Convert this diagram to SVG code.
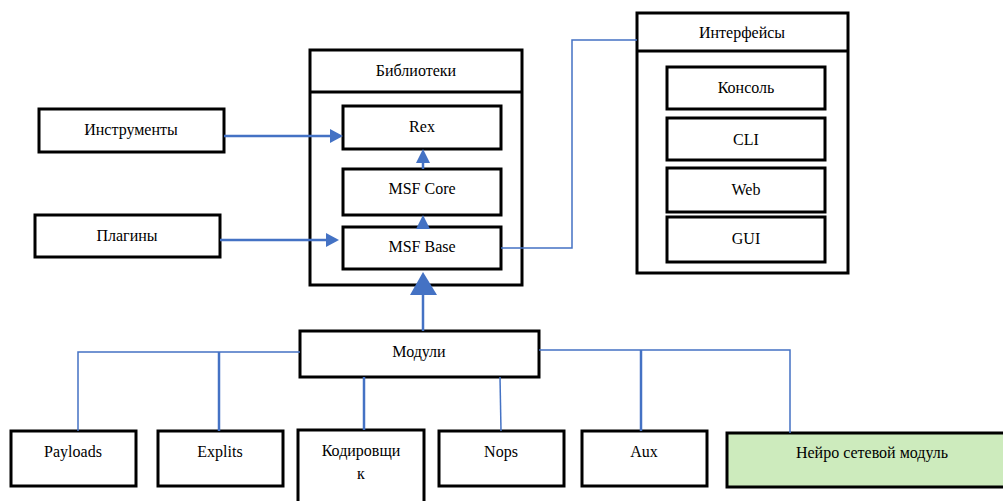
<svg xmlns="http://www.w3.org/2000/svg" width="1003" height="501" viewBox="0 0 1003 501">
<style>
.box{fill:#fff;stroke:#000;stroke-width:3}
.t{font-family:'Liberation Serif';font-size:16px;fill:#000;text-anchor:middle}
.ln{fill:none;stroke:#4472c4;stroke-width:1.5}
.lt{fill:none;stroke:#4472c4;stroke-width:2.5}
.ah{fill:#4472c4}
</style>
<rect width="1003" height="501" fill="#fff"/>
<g id="libraries">
<rect class="box" x="310" y="50" width="212" height="235"/>
<line x1="310" y1="92" x2="522" y2="92" stroke="#000" stroke-width="3"/>
<text class="t" x="416" y="76">Библиотеки</text>
</g>
<g id="rex"><rect class="box" x="343" y="106" width="158" height="43"/><text class="t" x="422" y="132">Rex</text></g>
<g id="msfcore"><rect class="box" x="343" y="169" width="158" height="46"/><text class="t" x="422" y="194">MSF Core</text></g>
<g id="msfbase"><rect class="box" x="343" y="227" width="158" height="42"/><text class="t" x="422" y="252">MSF Base</text></g>
<g id="interfaces">
<rect class="box" x="637" y="13" width="211" height="260"/>
<line x1="637" y1="51" x2="848" y2="51" stroke="#000" stroke-width="3"/>
<text class="t" x="742" y="38">Интерфейсы</text>
</g>
<g id="console"><rect class="box" x="667" y="67" width="158" height="42"/><text class="t" x="746" y="93">Консоль</text></g>
<g id="cli"><rect class="box" x="667" y="118" width="158" height="42"/><text class="t" x="746" y="145">CLI</text></g>
<g id="web"><rect class="box" x="667" y="168" width="158" height="44"/><text class="t" x="746" y="195">Web</text></g>
<g id="gui"><rect class="box" x="667" y="217" width="158" height="45"/><text class="t" x="746" y="244">GUI</text></g>
<g id="tools"><rect class="box" x="39" y="109" width="185" height="43"/><text class="t" x="131" y="135">Инструменты</text></g>
<g id="plugins"><rect class="box" x="35" y="215" width="185" height="42"/><text class="t" x="127" y="241">Плагины</text></g>
<g id="modules"><rect class="box" x="300" y="331" width="239" height="46"/><text class="t" x="419" y="357">Модули</text></g>
<g id="payloads"><rect class="box" x="11" y="431" width="125" height="55"/><text class="t" x="73" y="457">Payloads</text></g>
<g id="explits"><rect class="box" x="158" y="431" width="125" height="55"/><text class="t" x="220" y="457">Explits</text></g>
<g id="encoder"><rect class="box" x="298" y="430" width="126" height="80"/><text class="t" x="361" y="456">Кодировщи</text><text class="t" x="361" y="479">к</text></g>
<g id="nops"><rect class="box" x="439" y="431" width="125" height="55"/><text class="t" x="501" y="457">Nops</text></g>
<g id="aux"><rect class="box" x="582" y="431" width="125" height="55"/><text class="t" x="644" y="457">Aux</text></g>
<g id="neuro"><rect x="727" y="433" width="290" height="54" fill="#cdebbd" stroke="#000" stroke-width="3"/><text class="t" x="872" y="458">Нейро сетевой модуль</text></g>
<g id="connectors">
<line class="lt" x1="224" y1="136" x2="330" y2="136"/>
<polygon class="ah" points="343,136 330,129 330,143"/>
<line class="lt" x1="220" y1="240" x2="326" y2="240"/>
<polygon class="ah" points="339,240 326,233 326,247"/>
<line class="lt" x1="423" y1="169" x2="423" y2="160"/>
<polygon class="ah" points="423,149 416,163 430,163"/>
<line class="lt" x1="423" y1="227" x2="423" y2="224"/>
<polygon class="ah" points="423,215 416,229 430,229"/>
<line class="lt" x1="423" y1="331" x2="423" y2="292"/>
<polygon class="ah" points="423,272 410,295 437,295"/>
<polyline class="ln" points="501,248 572,248 572,40 637,40"/>
<polyline class="ln" points="300,352 78,352 78,431"/>
<line class="lt" x1="219" y1="352" x2="219" y2="431"/>
<line class="lt" x1="364" y1="377" x2="364" y2="430"/>
<line class="ln" x1="500" y1="377" x2="501" y2="431"/>
<polyline class="ln" points="539,350 790,350 790,433"/>
<line class="lt" x1="641" y1="350" x2="641" y2="431"/>
</g>
</svg>
